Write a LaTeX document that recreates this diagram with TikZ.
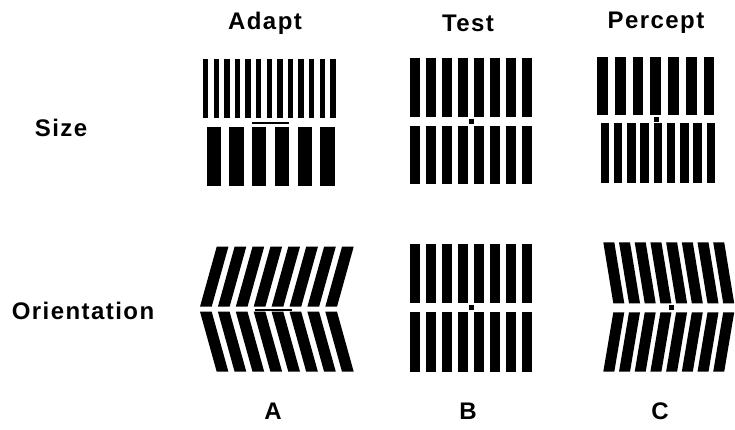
\documentclass[tikz,border=0pt]{standalone}
\usepackage{fontspec}
\setmainfont{Liberation Sans}
\begin{document}
\begin{tikzpicture}[x=1pt,y=-1pt,
  lbl/.style={font=\bfseries\fontsize{24}{26}\selectfont\addfontfeature{LetterSpace=6}, inner sep=0pt, anchor=center},
  barfill/.style={fill=black}]
\useasboundingbox (0,0) rectangle (735,429);
% column headers
\node[lbl] (hA) at (265,23) {Adapt};
\node[lbl] (hB) at (468,23) {Test};
\node[lbl] (hC) at (656,23) {Percept};
% row labels
\node[lbl] (rS) at (61,128) {Size};
\node[lbl] (rO) at (83,311) {Orientation};
% bottom letters
\node[lbl] (lA) at (273,411) {A};
\node[lbl] (lB) at (468,411) {B};
\node[lbl] (lC) at (660,411) {C};

% ---------- Size: Adapt ----------
\foreach \i in {0,...,12} \fill[barfill] ({203+\i*10.6},59) rectangle ++(5.3,59);
\foreach \i in {0,...,5} \fill[barfill] ({206.7+\i*22.7},127) rectangle ++(14.3,59);
\fill[barfill] (252,121.5) rectangle (289,124);

% ---------- Size: Test ----------
\foreach \i in {0,...,7} {
  \fill[barfill] ({410+\i*16},58.3) rectangle ++(9.5,58.4);
  \fill[barfill] ({410+\i*16},126) rectangle ++(9.5,58.3);
}
\fill[barfill] (468.5,118.5) rectangle ++(5,5);

% ---------- Size: Percept ----------
\foreach \i in {0,...,6} \fill[barfill] ({597.3+\i*17.7},56.7) rectangle ++(10.7,58.3);
\foreach \i in {0,...,8} \fill[barfill] ({600.7+\i*13.25},123.3) rectangle ++(8.3,60);
\fill[barfill] (653.5,116.5) rectangle ++(5,5);

% ---------- Orientation: Adapt ----------
\foreach \i in {0,...,7} {
  \fill[barfill] ({216.7+\i*17.9},246.7) -- ++(11.7,0) -- ++(-16.7,60) -- ++(-11.7,0) -- cycle;
  \fill[barfill] ({200+\i*17.9},311.7) -- ++(11.7,0) -- ++(16.7,60) -- ++(-11.7,0) -- cycle;
}
\fill[barfill] (255,308.8) rectangle (292,310.8);

% ---------- Orientation: Test ----------
\foreach \i in {0,...,7} {
  \fill[barfill] ({410+\i*16},244.3) rectangle ++(9.5,59);
  \fill[barfill] ({410+\i*16},312.3) rectangle ++(9.5,59.4);
}
\fill[barfill] (469.2,305) rectangle ++(5,5);

% ---------- Orientation: Percept ----------
\foreach \i in {0,...,7} {
  \fill[barfill] ({603.3+\i*15.7},242.3) -- ++(11,0) -- ++(10,61) -- ++(-11,0) -- cycle;
  \fill[barfill] ({613.3+\i*15.7},312.3) -- ++(11,0) -- ++(-10,59.4) -- ++(-11,0) -- cycle;
}
\fill[barfill] (669.2,305.2) rectangle ++(5,5);
\end{tikzpicture}
\end{document}
